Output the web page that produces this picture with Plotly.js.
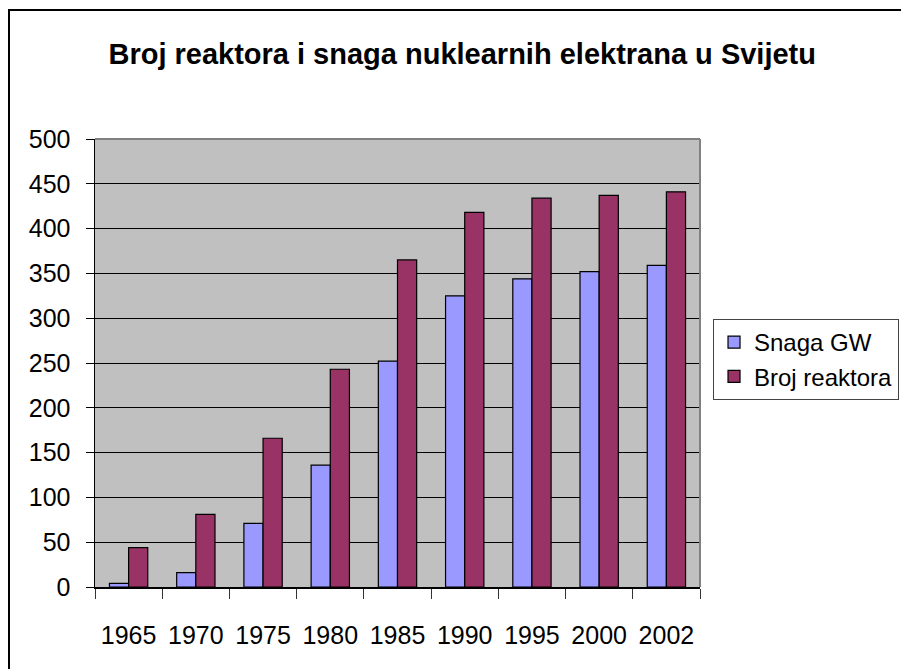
<!DOCTYPE html>
<html>
<head>
<meta charset="utf-8">
<script src="https://cdn.plot.ly/plotly-3.0.1.min.js"></script>
<style>
  html, body { margin: 0; padding: 0; background: #fff; }
  #chart { width: 901px; height: 669px; }
  #frame { position: absolute; left: 8px; top: 9px; width: 900px; height: 700px;
           border-top: 2px solid #000; border-left: 2px solid #000; pointer-events: none; box-sizing: border-box; }
</style>
</head>
<body>
<div id="chart"></div>
<div id="frame"></div>
<script>
const years = ["1965", "1970", "1975", "1980", "1985", "1990", "1995", "2000", "2002"];
const snagaGW = [4, 16, 71, 136, 252, 325, 344, 352, 359];
const brojReaktora = [44, 81, 166, 243, 365, 418, 434, 437, 441];
const yTicks = [0, 50, 100, 150, 200, 250, 300, 350, 400, 450, 500];

const fontFam = "Liberation Sans, Arial, sans-serif";

const traces = [
  {
    type: "bar", name: "Snaga GW", x: years, y: snagaGW, legendgroup: "a",
    marker: { color: "#9999FF", line: { color: "#000", width: 1.2 } }
  },
  {
    type: "bar", name: "Broj reaktora", x: years, y: brojReaktora, legendgroup: "b",
    marker: { color: "#993366", line: { color: "#000", width: 1.2 } }
  }
];

const layout = {
  width: 901, height: 669,
  margin: { l: 95, r: 201, t: 139, b: 82, pad: 0 },
  paper_bgcolor: "#fff",
  plot_bgcolor: "#C0C0C0",
  font: { family: fontFam, color: "#000", size: 25 },
  title: {
    text: "<b>Broj reaktora i snaga nuklearnih elektrana u Svijetu</b>",
    font: { family: fontFam, size: 29, color: "#000" },
    x: 0.513, xref: "container", xanchor: "center",
    y: 0.919, yref: "container", yanchor: "middle"
  },
  barmode: "group",
  bargap: 0.43,
  bargroupgap: 0,
  showlegend: true,
  legend: {
    xref: "container", yref: "container",
    x: 0.9978, xanchor: "right", y: 0.5232, yanchor: "top",
    bgcolor: "#fff", bordercolor: "#444", borderwidth: 1,
    font: { family: fontFam, size: 24, color: "#000" },
    traceorder: "grouped", tracegroupgap: 0, itemwidth: 30
  },
  xaxis: {
    type: "category",
    tickson: "boundaries",
    ticks: "outside", ticklen: 10, tickcolor: "#333", tickwidth: 1,
    showline: true, linecolor: "#000", linewidth: 1.5,
    showgrid: false, zeroline: false,
    tickfont: { family: fontFam, size: 25, color: "#000" },
    ticklabelstandoff: 25,
    fixedrange: true
  },
  yaxis: {
    range: [0, 500],
    tickvals: yTicks,
    ticktext: yTicks.map(String),
    ticks: "outside", ticklen: 8, tickcolor: "#000", tickwidth: 1,
    showline: true, linecolor: "#000", linewidth: 1.5,
    showgrid: true, gridcolor: "#000", gridwidth: 1,
    zeroline: false,
    tickfont: { family: fontFam, size: 25, color: "#000" },
    ticklabelstandoff: 10,
    fixedrange: true
  },
  shapes: [
    { type: "line", xref: "paper", yref: "paper", x0: 0, x1: 1, y0: 1, y1: 1,
      line: { color: "#808080", width: 2 }, layer: "above" },
    { type: "line", xref: "paper", yref: "paper", x0: 1, x1: 1, y0: 0, y1: 1,
      line: { color: "#808080", width: 2 }, layer: "above" }
  ]
};

Plotly.newPlot("chart", traces, layout, { staticPlot: true, displayModeBar: false });
</script>
</body>
</html>
